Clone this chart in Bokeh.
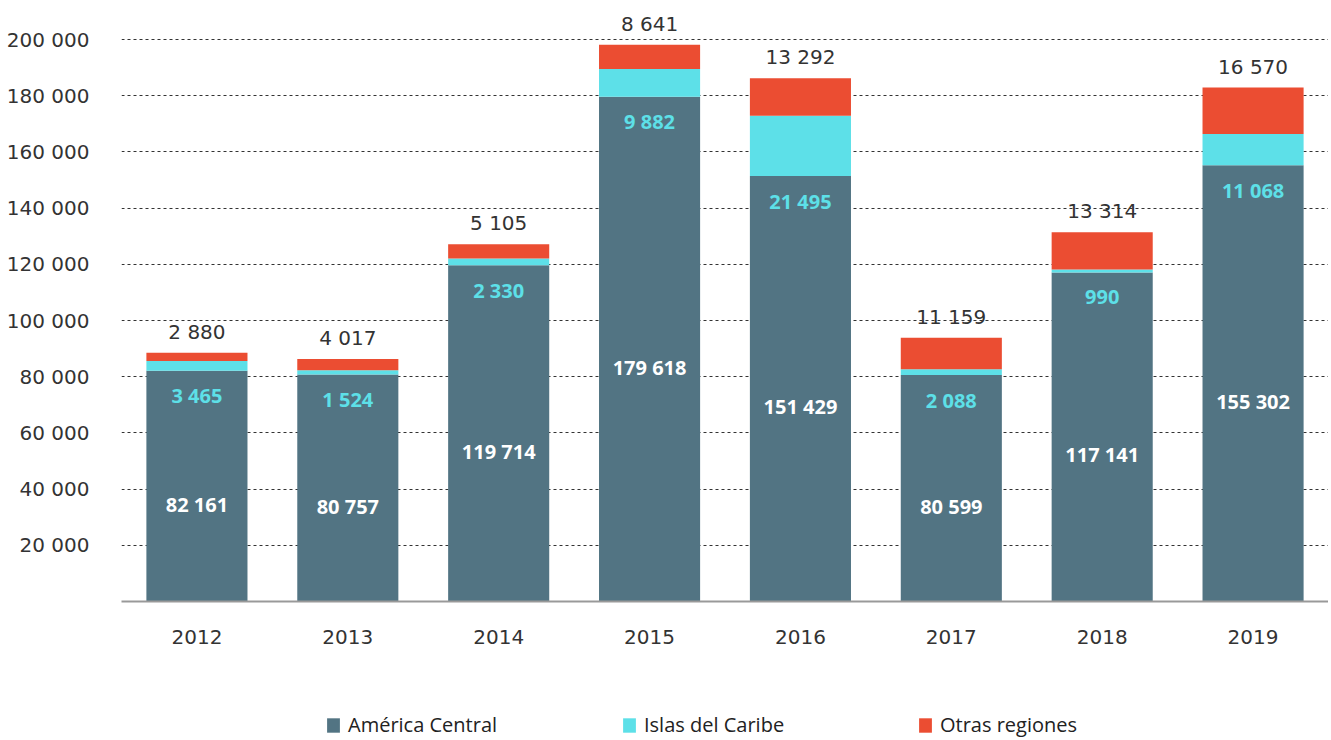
from bokeh.plotting import figure
from bokeh.models import ColumnDataSource, FixedTicker, Legend, LegendItem
from bokeh.layouts import column
from bokeh.core.properties import value
from bokeh.embed import file_html
from bokeh.resources import INLINE

years = ["2012", "2013", "2014", "2015", "2016", "2017", "2018", "2019"]
america_central = [82161, 80757, 119714, 179618, 151429, 80599, 117141, 155302]
islas_caribe = [3465, 1524, 2330, 9882, 21495, 2088, 990, 11068]
otras_regiones = [2880, 4017, 5105, 8641, 13292, 11159, 13314, 16570]
series_names = ["América Central", "Islas del Caribe", "Otras regiones"]
colors = ["#527483", "#5DE0E8", "#EB4D32"]
y_ticks = [20000, 40000, 60000, 80000, 100000, 120000, 140000, 160000, 180000, 200000]


def fmt(v):
    return f"{v:,}".replace(",", " ")


src = ColumnDataSource(dict(
    x=years,
    ac=america_central,
    ic=islas_caribe,
    ot=otras_regiones,
    ac_mid=[a / 2 for a in america_central],
    ac_top=america_central,
    total=[a + b + c for a, b, c in zip(america_central, islas_caribe, otras_regiones)],
    ac_lbl=[fmt(v) for v in america_central],
    ic_lbl=[fmt(v) for v in islas_caribe],
    ot_lbl=[fmt(v) for v in otras_regiones],
))

W = 1328
p = figure(x_range=years, y_range=(0, 210000), width=W, height=665,
           output_backend="svg", toolbar_location=None,
           min_border_left=121, min_border_right=0, min_border_top=11,
           min_border_bottom=64)
p.outline_line_color = None
p.background_fill_color = "white"
p.border_fill_color = "white"

rs = p.vbar_stack(["ac", "ic", "ot"], x="x", width=0.67, color=colors,
                  line_color=None, source=src)

# labels
p.text(x="x", y="ac_mid", text="ac_lbl", source=src, text_align="center",
       text_baseline="middle", y_offset=18, text_color="white",
       text_font=value("Open Sans"), text_font_style="bold", text_font_size="20px")
p.text(x="x", y="ac_top", text="ic_lbl", source=src, text_align="center",
       text_baseline="middle", y_offset=25, text_color="#5DE0E8",
       text_font=value("Open Sans"), text_font_style="bold", text_font_size="20px")
p.text(x="x", y="total", text="ot_lbl", source=src, text_align="center",
       text_baseline="middle", y_offset=-21, text_color="#333333",
       text_font=value("DejaVu Sans"), text_font_size="20px")

# axes
p.yaxis.ticker = FixedTicker(ticks=y_ticks)
p.yaxis.major_label_overrides = {t: fmt(t) for t in y_ticks}
p.yaxis.axis_line_color = None
p.yaxis.major_tick_line_color = None
p.yaxis.minor_tick_line_color = None
p.yaxis.major_label_standoff = 26
p.yaxis.major_label_text_font = "DejaVu Sans"
p.yaxis.major_label_text_font_size = "20px"
p.yaxis.major_label_text_color = "#333333"

p.xaxis.axis_line_color = "#999999"
p.xaxis.axis_line_width = 2
p.xaxis.major_tick_line_color = None
p.xaxis.minor_tick_line_color = None
p.xaxis.major_label_standoff = 22
p.xaxis.major_label_text_font = "DejaVu Sans"
p.xaxis.major_label_text_font_size = "20px"
p.xaxis.major_label_text_color = "#333333"

p.xgrid.grid_line_color = None
p.ygrid.grid_line_color = "#333333"
p.ygrid.grid_line_dash = "3 3"
p.ygrid.grid_line_width = 1
p.ygrid.ticker = FixedTicker(ticks=y_ticks)

# legend strip below the chart (hidden copies of the series supply the legend glyphs)
lg = figure(width=W, height=73, x_range=years, y_range=(0, 1),
            x_axis_type=None, y_axis_type=None,
            output_backend="svg", toolbar_location=None,
            min_border_left=0, min_border_right=0, min_border_top=0, min_border_bottom=0)
lg.outline_line_color = None
lg.grid.grid_line_color = None
lg_rs = lg.vbar_stack(["ac", "ic", "ot"], x="x", width=0.67, color=colors,
                      line_color=None, source=src)
for r in lg_rs:
    r.visible = False

legend = Legend(items=[LegendItem(label=n, renderers=[r]) for n, r in zip(series_names, lg_rs)],
                location=(204, 0), orientation="horizontal",
                border_line_color=None, background_fill_alpha=0,
                inactive_fill_alpha=0,
                padding=0, margin=0, spacing=23,
                glyph_width=16, glyph_height=18, label_standoff=7, label_width=250,
                label_text_font="Open Sans", label_text_font_size="20px",
                label_text_color="#222222")
lg.add_layout(legend, "center")

layout = column(p, lg, spacing=0)
open("out.html", "w").write(file_html(layout, INLINE))
